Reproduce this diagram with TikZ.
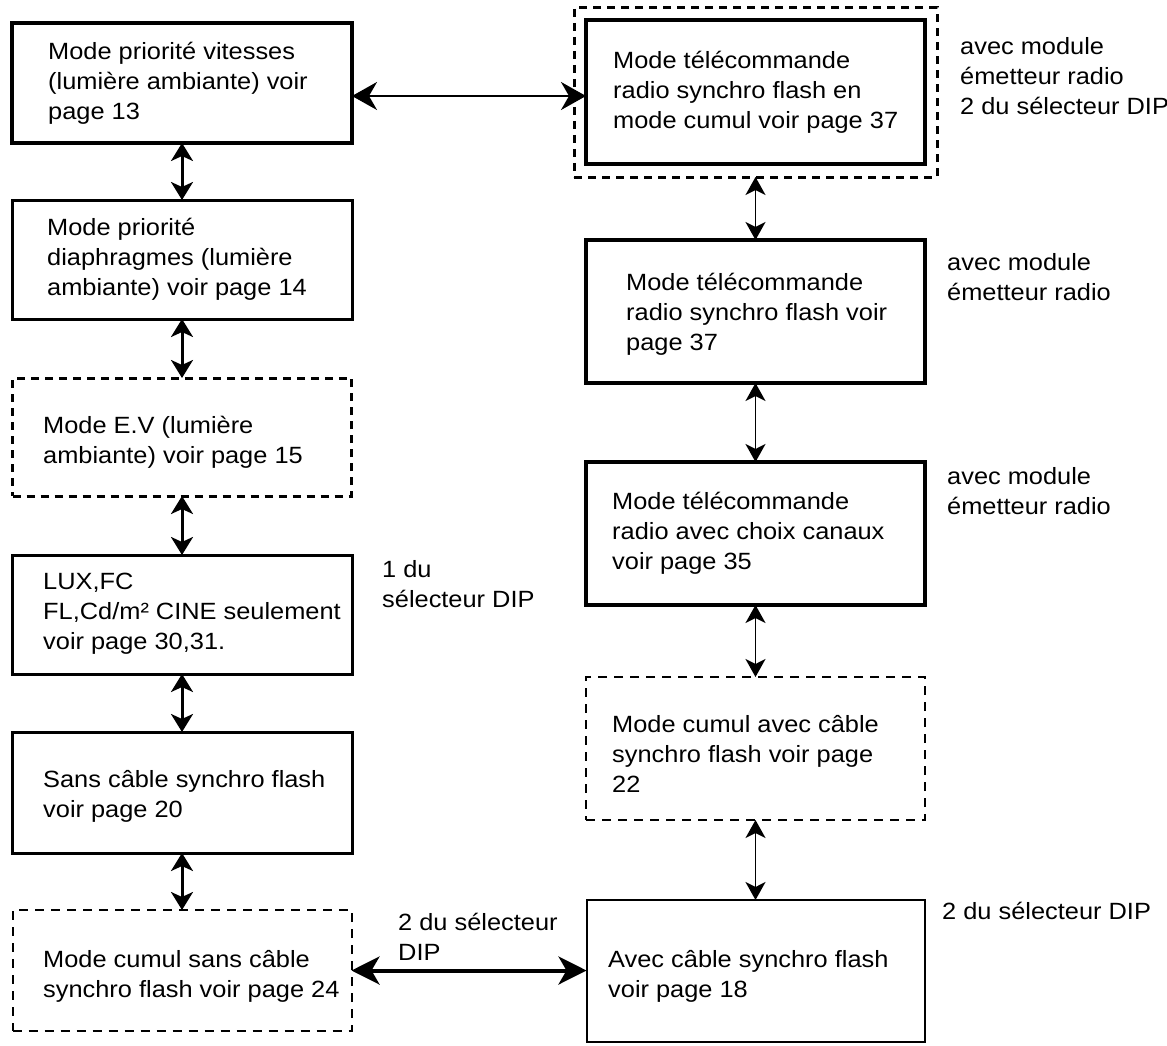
\documentclass[tikz,border=0pt]{standalone}
\usepackage{fontspec}
\setmainfont{Liberation Sans}[FakeStretch=1.08]
\usetikzlibrary{arrows.meta}
\newcommand{\mytab}[1]{\begin{tabular}{@{}l@{}}#1\end{tabular}}
\begin{document}
\begin{tikzpicture}[x=1pt,y=-1pt,
  box/.style={draw=black, rectangle, inner sep=0pt, outer sep=0pt},
  solidA/.style={box, line width=3.5pt},
  solidB/.style={box, line width=3pt},
  solidC/.style={box, line width=2pt},
  dashA/.style={box, line width=3pt, dash pattern=on 8pt off 6pt},
  dashB/.style={box, line width=2pt, dash pattern=on 9pt off 7pt},
  txt/.style={anchor=north west, inner sep=0pt, font=\fontsize{23.5}{30}\selectfont},
  arrTop/.style={line width=2pt, arrows={Stealth[length=25pt,width=28pt,inset=8pt]-Stealth[length=25pt,width=28pt,inset=8pt]}},
  arrBot/.style={line width=4pt, arrows={Stealth[length=28pt,width=28pt,inset=8pt]-Stealth[length=28pt,width=28pt,inset=8pt]}},
  arrL/.style={line width=3pt, arrows={Stealth[length=18pt,width=22pt,inset=5pt]-Stealth[length=18pt,width=22pt,inset=5pt]}},
  arrR/.style={line width=1.5pt, arrows={Stealth[length=18pt,width=20pt,inset=5pt]-Stealth[length=18pt,width=20pt,inset=5pt]}}
]
\path[fill=white] (0,0) rectangle (1167,1046);
\useasboundingbox (0,0) rectangle (1167,1046);

% left column
\node[solidA, minimum width=340pt, minimum height=120pt] (L1) at (182,83) {};
\node[solidB, minimum width=340pt, minimum height=119pt] (L2) at (182,259.5) {};
\node[dashA,  minimum width=339pt, minimum height=118pt] (L3) at (182,437) {};
\node[solidB, minimum width=340pt, minimum height=119pt] (L4) at (182,614.5) {};
\node[solidB, minimum width=340pt, minimum height=121pt] (L5) at (182,792.5) {};
\node[dashB,  minimum width=339pt, minimum height=121pt] (L6) at (182,970.5) {};

% right column
\node[dashA,  minimum width=363pt, minimum height=169pt] (R1o) at (755.5,92.5) {};
\node[solidA, minimum width=339pt, minimum height=144pt] (R1) at (755.5,92) {};
\node[solidA, minimum width=339pt, minimum height=143pt] (R2) at (755.5,311.5) {};
\node[solidA, minimum width=339pt, minimum height=143pt] (R3) at (755.5,533.5) {};
\node[dashB,  minimum width=339pt, minimum height=143pt] (R4) at (755.5,748.5) {};
\node[solidC, minimum width=338pt, minimum height=142pt] (R5) at (755.5,971) {};

% box texts
\node[txt] (L1t) at (48,38) {\mytab{Mode priorité vitesses\\(lumière ambiante) voir\\page 13}};
\node[txt] (L2t) at (47,214) {\mytab{Mode priorité\\diaphragmes (lumière\\ambiante) voir page 14}};
\node[txt] (L3t) at (43,412) {\mytab{Mode E.V (lumière\\ambiante) voir page 15}};
\node[txt] (L4t) at (43,568) {\mytab{LUX,FC\\FL,Cd/m² CINE seulement\\voir page 30,31.}};
\node[txt] (L5t) at (43,766) {\mytab{Sans câble synchro flash\\voir page 20}};
\node[txt] (L6t) at (43,946) {\mytab{Mode cumul sans câble\\synchro flash voir page 24}};
\node[txt] (R1t) at (613,47) {\mytab{Mode télécommande\\radio synchro flash en\\mode cumul voir page 37}};
\node[txt] (R2t) at (626,269) {\mytab{Mode télécommande\\radio synchro flash voir\\page 37}};
\node[txt] (R3t) at (612,488) {\mytab{Mode télécommande\\radio avec choix canaux\\voir page 35}};
\node[txt] (R4t) at (612,711) {\mytab{Mode cumul avec câble\\synchro flash voir page\\22}};
\node[txt] (R5t) at (608,946) {\mytab{Avec câble synchro flash\\voir page 18}};

% side labels
\node[txt] (S1) at (960,33) {\mytab{avec module\\émetteur radio\\2 du sélecteur DIP}};
\node[txt] (S2) at (947,249) {\mytab{avec module\\émetteur radio}};
\node[txt] (S3) at (947,463) {\mytab{avec module\\émetteur radio}};
\node[txt] (S4) at (382,556) {\mytab{1 du\\sélecteur DIP}};
\node[txt] (S5) at (942,898) {\mytab{2 du sélecteur DIP}};
\node[txt] (S6) at (398,909) {\mytab{2 du sélecteur\\DIP}};

% connectors
\draw[arrTop] ([yshift=-13pt]L1.east) -- ([yshift=-13pt]L1.east -| R1.west);
\draw[arrBot] (L6.east) -- (L6.east -| R5.west);
\draw[arrL] (L1.south) -- (L2.north);
\draw[arrL] (L2.south) -- (L3.north);
\draw[arrL] (L3.south) -- (L4.north);
\draw[arrL] (L4.south) -- (L5.north);
\draw[arrL] (L5.south) -- (L6.north);
\draw[arrR] (R1o.south) -- (R2.north);
\draw[arrR] (R2.south) -- (R3.north);
\draw[arrR] (R3.south) -- (R4.north);
\draw[arrR] (R4.south) -- (R5.north);
\end{tikzpicture}
\end{document}
